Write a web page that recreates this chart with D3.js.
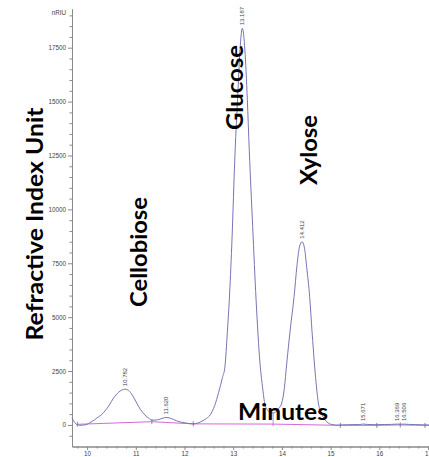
<!DOCTYPE html>
<html>
<head>
    <title>HPLC Chromatogram</title>
    <script src="https://d3js.org/d3.v7.min.js"></script>
    <style>
        body { margin: 0; background: #fff; }
        .axis text { font-family: "Liberation Sans", Arial, sans-serif; font-size: 6.3px; fill: #444; }
        .axis path, .axis line { stroke: #8a8a8a; }
        .big { font-family: Lato, "Open Sans", sans-serif; font-weight: bold; font-size: 23px; fill: #000; }
        .rt { font-family: "Liberation Sans", Arial, sans-serif; font-size: 6px; fill: #444; }
    </style>
</head>
<body>
    <div id="chart"></div>

    <script>
        // retention time (min) and detector signal (nRIU)
        var times = [9.69, 9.72, 9.76, 9.80, 9.85, 9.90, 9.95, 10.00, 10.06, 10.15, 10.20, 10.335, 10.45, 10.54, 10.65, 10.72, 10.78, 10.85, 10.93, 11.02,
                     11.10, 11.19, 11.27, 11.33, 11.42, 11.50, 11.56, 11.62, 11.70, 11.77, 11.84, 11.95, 12.05, 12.18, 12.28, 12.36, 12.45, 12.53, 12.62, 12.70,
                     12.78, 12.83, 12.88, 12.92, 12.97, 13.04, 13.09, 13.14, 13.187, 13.24, 13.29, 13.33, 13.40, 13.47, 13.55, 13.60, 13.655, 13.72, 13.78, 13.82,
                     13.87, 13.93, 13.998, 14.05, 14.10, 14.17, 14.25, 14.31, 14.36, 14.412, 14.46, 14.51, 14.57, 14.62, 14.667, 14.70, 14.749, 14.80, 14.86, 14.92,
                     14.98, 15.05, 15.15, 15.20, 15.35, 15.50, 15.60, 15.671, 15.75, 15.85, 15.95, 16.10, 16.25, 16.369, 16.43, 16.506, 16.60, 16.75, 16.94, 17.05];
        var signal = [330, 200, 70, 10, -15, -10, 0, 30, 110, 230, 320, 560, 900, 1240, 1520, 1630, 1660, 1600, 1380, 1010,
                      700, 460, 300, 220, 230, 270, 320, 345, 320, 260, 190, 120, 80, 50, 90, 180, 300, 470, 900, 1500,
                      2200, 2700, 4300, 5800, 8300, 12750, 15100, 17400, 18400, 17400, 15100, 12750, 9200, 5800, 2870, 1800, 930, 650, 560, 555,
                      600, 750, 1020, 1700, 2870, 4400, 5950, 7400, 8250, 8500, 8250, 7300, 5950, 4300, 2870, 2000, 1020, 600, 320, 150,
                      50, 10, -10, 0, 10, 15, 20, 40, 25, 15, 10, 20, 25, 40, 30, 40, 25, 15, 0, 0];

        // integration baseline (pink)
        var baseTimes = [9.80, 11.33, 12.18, 13.82, 15.20, 15.95, 16.43, 16.94, 17.05];
        var baseValues = [30, 150, 50, 40, -20, -20, 0, -20, -20];

        // integration start/stop markers
        var markTimes = [9.80, 11.33, 12.18, 15.20, 15.95, 16.43, 16.94];
        var dropTime = 13.82;

        // peak retention time labels
        var peakLabels = ["10.782", "11.620", "13.187", "14.412", "15.671", "16.369", "16.506"];

        var yTicks = [0, 2500, 5000, 7500, 10000, 12500, 15000, 17500];
        var xTicks = [10, 11, 12, 13, 14, 15, 16, 17];

        var width = 429, height = 457;

        var svg = d3.select("#chart").append("svg").attr("width", width).attr("height", height);

        var x = d3.scaleLinear().domain([9.69, 17.05]).range([72, 72 + 7.36 * 48.7]);
        var y = d3.scaleLinear().domain([-1000, 19300]).range([446.5, 8.9]);

        // minor ticks
        var yMinor = d3.range(-500, 19300, 500).filter(function(v) { return v % 2500 !== 0; });
        var xMinor = d3.range(9.8, 17.05, 0.2).filter(function(v) { return Math.abs(v - Math.round(v)) > 0.01; });

        svg.append("g")
           .attr("class", "axis")
           .attr("transform", "translate(72,0)")
           .call(d3.axisLeft(y).tickValues(yMinor).tickSize(2.5).tickFormat("").tickSizeOuter(0));
        svg.append("g")
           .attr("class", "axis")
           .attr("transform", "translate(72,0)")
           .call(d3.axisLeft(y).tickValues(yTicks).tickSize(4).tickPadding(2).tickFormat(d3.format("d")).tickSizeOuter(0));

        svg.append("g")
           .attr("class", "axis")
           .attr("transform", "translate(0,446.5)")
           .call(d3.axisBottom(x).tickValues(xMinor).tickSize(2).tickFormat("").tickSizeOuter(0));
        svg.append("g")
           .attr("class", "axis")
           .attr("transform", "translate(0,446.5)")
           .call(d3.axisBottom(x).tickValues(xTicks).tickSize(3.5).tickPadding(1.5).tickFormat(d3.format("d")).tickSizeOuter(0));

        svg.append("text")
           .attr("class", "axis rt")
           .attr("x", 66)
           .attr("y", y.range()[1] + 4)
           .attr("dy", "0.35em")
           .attr("text-anchor", "end")
           .style("font-size", "6.3px")
           .text("nRIU");

        var pts = times.map(function(t, i) { return [t, signal[i]]; });
        var basePts = baseTimes.map(function(t, i) { return [t, baseValues[i]]; });

        var line = d3.line()
            .x(function(d) { return x(d[0]); })
            .y(function(d) { return y(d[1]); });

        svg.append("path")
           .datum(basePts)
           .attr("fill", "none")
           .attr("stroke", "#d66ad6")
           .attr("stroke-width", 1)
           .attr("d", line);

        svg.append("path")
           .datum(pts)
           .attr("fill", "none")
           .attr("stroke", "#7676b4")
           .attr("stroke-width", 1)
           .attr("d", line.curve(d3.curveMonotoneX));

        var baseAt = d3.scaleLinear().domain(baseTimes).range(baseValues);
        var sigAt = d3.scaleLinear().domain(times).range(signal);

        svg.selectAll(".mark")
           .data(markTimes)
           .enter().append("line")
           .attr("class", "mark")
           .attr("x1", function(d) { return x(d); })
           .attr("x2", function(d) { return x(d); })
           .attr("y1", function(d) { return y(baseAt(d)) - 2.5; })
           .attr("y2", function(d) { return y(baseAt(d)) + 2.5; })
           .attr("stroke", "#6e6496")
           .attr("stroke-width", 0.8);

        svg.append("line")
           .attr("x1", x(dropTime)).attr("x2", x(dropTime))
           .attr("y1", y(sigAt(dropTime)))
           .attr("y2", y(baseAt(dropTime)) + 2)
           .attr("stroke", "#b86ac8")
           .attr("stroke-width", 0.8);

        // retention time labels above each peak
        svg.selectAll(".rtlab")
           .data(peakLabels)
           .enter().append("text")
           .attr("class", "rt rtlab")
           .attr("transform", function(d) {
               var t = +d;
               return "translate(" + (x(t) + 2) + "," + (y(sigAt(t)) - 3) + ") rotate(-90)";
           })
           .text(function(d) { return d; });

        // big annotations
        function vlabel(txt, bx, cy, len) {
            svg.append("text")
               .attr("class", "big")
               .attr("transform", "translate(" + bx + "," + cy + ") rotate(-90)")
               .attr("text-anchor", "middle")
               .attr("textLength", len)
               .attr("lengthAdjust", "spacingAndGlyphs")
               .text(txt);
        }
        vlabel("Refractive Index Unit", 43, 224, 233);
        vlabel("Cellobiose", 147, 252, 110);
        vlabel("Glucose", 243, 87.5, 85);
        vlabel("Xylose", 317, 150, 70);

        svg.append("text")
           .attr("class", "big")
           .attr("x", 238)
           .attr("y", 420)
           .attr("textLength", 90)
           .attr("lengthAdjust", "spacingAndGlyphs")
           .text("Minutes");
    </script>

</body>
</html>
